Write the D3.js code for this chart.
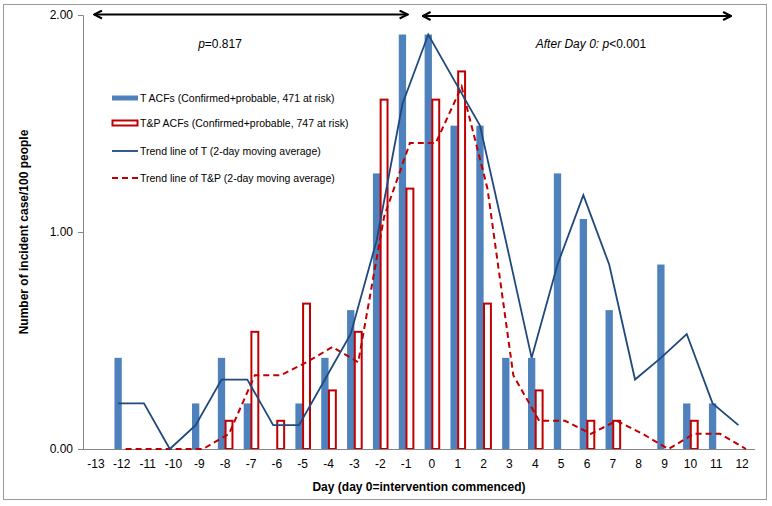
<!DOCTYPE html>
<html><head><meta charset="utf-8">
<script src="https://cdn.jsdelivr.net/npm/d3@7"></script>
<style>
html,body{margin:0;padding:0;background:#fff;}
svg{display:block;font-family:"Liberation Sans",Arial,sans-serif;}
</style></head>
<body>
<svg id="c" width="772" height="506"></svg>
<script>
// ---- data ----
const days = [-13,-12,-11,-10,-9,-8,-7,-6,-5,-4,-3,-2,-1,0,1,2,3,4,5,6,7,8,9,10,11,12];
const tValues  = [0,0.42,0,0,0.21,0.42,0.21,0,0.21,0.42,0.64,1.27,1.91,1.91,1.49,1.49,0.42,0.42,1.27,1.06,0.64,0,0.85,0.21,0.21,0];
const tpValues = [0,0,0,0,0,0.13,0.54,0.13,0.67,0.27,0.54,1.61,1.20,1.61,1.74,0.67,0,0.27,0,0.13,0.13,0,0,0.13,0,0];
// trend lines (2-day moving average), starting at day -12
const trendDays = [-12,-11,-10,-9,-8,-7,-6,-5,-4,-3,-2,-1,0,1,2,3,4,5,6,7,8,9,10,11,12];
const tTrend  = [0.21,0.21,0,0.11,0.32,0.32,0.11,0.11,0.32,0.53,0.96,1.59,1.91,1.70,1.49,0.96,0.42,0.85,1.17,0.85,0.32,0.42,0.53,0.21,0.11];
const tpTrend = [0,0,0,0,0.07,0.34,0.34,0.40,0.47,0.40,1.07,1.41,1.41,1.67,1.20,0.34,0.13,0.13,0.07,0.13,0.07,0,0.07,0.07,0];
const yTicks = [0,1,2];
const legendLabels = [
  "T ACFs (Confirmed+probable, 471 at risk)",
  "T&P ACFs (Confirmed+probable, 747 at risk)",
  "Trend line of T (2-day moving average)",
  "Trend line of T&P (2-day moving average)"
];

const BLUE="#4F81BD", RED="#C00000", NAVY="#1F497D", GRAY="#868686";
const svg = d3.select("#c");

// outer border
svg.append("rect").attr("x",3.5).attr("y",4.5).attr("width",763).attr("height",495)
  .attr("fill","none").attr("stroke","#999").attr("stroke-width",1);

const x = d3.scaleBand().domain(days).range([83,755]).padding(0);
const y = d3.scaleLinear().domain([0,2]).range([449,15]);
const cx = d => x(d) + x.bandwidth()/2;

// bars
svg.append("g").selectAll("rect").data(days.map((d,i)=>({d,v:tValues[i]})).filter(o=>o.v>0))
  .join("rect")
  .attr("x",o=>cx(o.d)-7.3).attr("width",7.3)
  .attr("y",o=>y(o.v)).attr("height",o=>y(0)-y(o.v))
  .attr("fill",BLUE);
svg.append("g").selectAll("rect").data(days.map((d,i)=>({d,v:tpValues[i]})).filter(o=>o.v>0))
  .join("rect")
  .attr("x",o=>cx(o.d)+0.4).attr("width",6.9)
  .attr("y",o=>y(o.v)).attr("height",o=>y(0)-y(o.v))
  .attr("fill","#fff").attr("stroke",RED).attr("stroke-width",2);

// axes
const yAxis = d3.axisLeft(y).tickValues(yTicks).tickFormat(d3.format(".2f")).tickSize(5).tickPadding(5);
const gy = svg.append("g").attr("transform","translate(83,0)").call(yAxis);
gy.select(".domain").attr("stroke",GRAY).attr("d","M-5,15.5H0.5V449");
gy.selectAll(".tick line").attr("stroke",GRAY);
gy.selectAll("text").attr("font-size",12).attr("fill","#000").attr("font-family","Liberation Sans, Arial, sans-serif");

const xAxis = d3.axisBottom(x).tickSize(0).tickPadding(10);
const gx = svg.append("g").attr("transform","translate(0,449)").call(xAxis);
gx.select(".domain").attr("stroke",GRAY).attr("d","M83,0.5H755");
gx.selectAll("text").attr("font-size",12).attr("fill","#000").attr("font-family","Liberation Sans, Arial, sans-serif");

// trend lines (drawn at each series' bar centre)
const lineT = d3.line().x((d,i)=>cx(trendDays[i])-3.65).y(d=>y(d));
const lineTP = d3.line().x((d,i)=>cx(trendDays[i])+3.85).y(d=>y(d));
svg.append("path").attr("d",lineTP(tpTrend)).attr("fill","none").attr("stroke",RED)
  .attr("stroke-width",2).attr("stroke-dasharray","6,4");
svg.append("path").attr("d",lineT(tTrend)).attr("fill","none").attr("stroke",NAVY)
  .attr("stroke-width",1.8);

// axis titles
svg.append("text").attr("x",419).attr("y",491).attr("text-anchor","middle")
  .attr("font-size",12).attr("font-weight","bold").text("Day (day 0=intervention commenced)");
svg.append("text").attr("transform","translate(28,232) rotate(-90)").attr("text-anchor","middle")
  .attr("font-size",12).attr("font-weight","bold").text("Number of incident case/100 people");

// arrows
const defs = svg.append("defs");
defs.append("marker").attr("id","ah").attr("viewBox","0 0 10 10").attr("refX",9).attr("refY",5)
  .attr("markerWidth",10).attr("markerHeight",10).attr("orient","auto-start-reverse")
  .attr("markerUnits","userSpaceOnUse")
  .append("path").attr("d","M1,1L9,5L1,9").attr("fill","none").attr("stroke","#000").attr("stroke-width",2);
svg.append("line").attr("x1",x(-13)+11).attr("x2",cx(-1)+1.5).attr("y1",14.5).attr("y2",14.5)
  .attr("stroke","#000").attr("stroke-width",2).attr("marker-start","url(#ah)").attr("marker-end","url(#ah)");
svg.append("line").attr("x1",cx(-1)+16.5).attr("x2",cx(12)-11).attr("y1",16).attr("y2",16)
  .attr("stroke","#000").attr("stroke-width",2).attr("marker-start","url(#ah)").attr("marker-end","url(#ah)");

const t1 = svg.append("text").attr("x",220).attr("y",48).attr("text-anchor","middle").attr("font-size",12);
t1.append("tspan").attr("font-style","italic").text("p");
t1.append("tspan").text("=0.817");
const t2 = svg.append("text").attr("x",591).attr("y",48).attr("text-anchor","middle").attr("font-size",12);
t2.append("tspan").attr("font-style","italic").text("After Day 0: p");
t2.append("tspan").text("<0.001");

// legend
const lg = svg.append("g");
const ly = [98,123,151,178];
lg.append("rect").attr("x",112).attr("y",ly[0]-2.5).attr("width",26).attr("height",5).attr("fill",BLUE);
lg.append("rect").attr("x",112.5).attr("y",ly[1]-2.5).attr("width",25).attr("height",5).attr("fill","#fff")
  .attr("stroke",RED).attr("stroke-width",2);
lg.append("line").attr("x1",112).attr("x2",138).attr("y1",ly[2]).attr("y2",ly[2]).attr("stroke",NAVY).attr("stroke-width",1.8);
lg.append("line").attr("x1",112).attr("x2",138).attr("y1",ly[3]).attr("y2",ly[3]).attr("stroke",RED).attr("stroke-width",2).attr("stroke-dasharray","6,4");
lg.selectAll("text").data(legendLabels).join("text")
  .attr("x",140).attr("y",(d,i)=>ly[i]+4).attr("font-size",10.5).text(d=>d);
</script>
</body></html>
